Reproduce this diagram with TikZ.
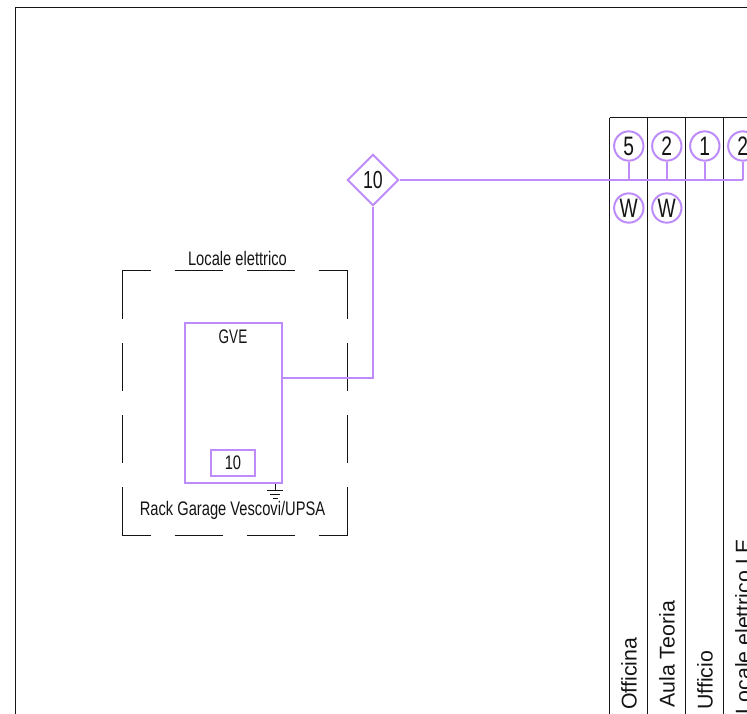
\documentclass[tikz,border=0pt]{standalone}
\usepackage{fontspec}
\setmainfont{Liberation Sans}
\usetikzlibrary{shapes.geometric}
\definecolor{lil}{RGB}{190,140,250}
\definecolor{ink}{RGB}{20,20,20}
\tikzset{
  px/.style={x=0.75pt,y=-0.75pt},
  wire/.style={draw=lil,line width=1.5pt},
  frameln/.style={draw=ink,line width=0.65pt},
  bubble/.style={circle,draw=lil,line width=1.5pt,fill=white,minimum size=22pt,inner sep=0pt},
  bubtext/.style={inner sep=0pt,text=ink,font=\fontsize{20pt}{21pt}\selectfont,xscale=0.72,transform shape},
  diam/.style={diamond,draw=lil,line width=1.5pt,fill=white,minimum width=38.5pt,minimum height=38.5pt,inner sep=0pt},
  narrow/.style={inner sep=0pt,text=ink,font=\fontsize{14.7pt}{16pt}\selectfont,xscale=0.75,transform shape},
  vlabel/.style={inner sep=0pt,anchor=west,rotate=90,text=ink,font=\fontsize{16pt}{18pt}\selectfont},
}
\begin{document}
\begin{tikzpicture}[px]
\useasboundingbox (0,0) rectangle (747,714);
% outer frame
\coordinate (fTL) at (15.5,7.5);
\coordinate (fTR) at (747,7.5);
\coordinate (fBL) at (15.5,714);
\draw[frameln] (fBL) -- (fTL) -- (fTR);
% columns
\foreach \n/\x in {a/609.7,b/647.7,c/685.7,d/723.2}{
  \coordinate (\n t) at (\x,117.7);
  \coordinate (\n b) at (\x,714);
  \draw[frameln] (\n t) -- (\n b);
}
\coordinate (colR) at (747,117.7);
\draw[frameln] (at) -- (colR);
% feeder
\node[diam] (dia) at (373,180) {};
\node[bubtext,font=\fontsize{18.5pt}{19pt}\selectfont] at (dia) {10};
\node[bubble] (n1) at (628.8,146) {};
\node[bubble] (n2) at (666.8,146) {};
\node[bubble] (n3) at (704.8,146) {};
\node[bubble] (n4) at (742.8,146) {};
\node[bubble] (w1) at (628.8,208) {};
\node[bubble] (w2) at (666.8,208) {};
\node[bubtext] at (n1) {5};
\node[bubtext] at (n2) {2};
\node[bubtext] at (n3) {1};
\node[bubtext] at (n4) {2};
\node[bubtext] at (w1) {W};
\node[bubtext] at (w2) {W};
\coordinate (j1) at (628.8,180);
\coordinate (j2) at (666.8,180);
\coordinate (j3) at (704.8,180);
\coordinate (j4) at (742.8,180);
\draw[wire] (dia.east) -- (j4);
\draw[wire] (n1) -- (j1);
\draw[wire] (n2) -- (j2);
\draw[wire] (n3) -- (j3);
\draw[wire] (n4) -- (j4);
% room dashed
\draw[frameln,line width=0.6pt] (122.7,319) -- (122.7,270.7) -- (151,270.7)
  (174.5,270.7) -- (223,270.7) (247,270.7) -- (295,270.7) (318.5,270.7) -- (347,270.7) -- (347,319)
  (122.7,343) -- (122.7,391) (122.7,415) -- (122.7,463) (122.7,487) -- (122.7,535) -- (151,535)
  (174.5,535) -- (223,535) (247,535) -- (295,535) (318.5,535) -- (347,535) -- (347,487)
  (347,463) -- (347,415) (347,391) -- (347,343);
\node[narrow] (loc) at (237.5,258.5) {Locale elettrico};
\node[narrow] (rack) at (232.5,510.5) {Rack Garage Vescovi/UPSA};
% GVE
\node[draw=lil,line width=1.3pt,minimum width=72.5pt,minimum height=120pt,inner sep=0pt] (gve) at (233.3,403) {};
\node[narrow,xscale=0.92] (gvet) at (233,337) {GVE};
\node[draw=lil,line width=1.3pt,minimum width=33pt,minimum height=20pt,inner sep=0pt] (ten) at (233,463) {};
\node[narrow] at (ten) {10};
\coordinate (bend) at (373,378);
\coordinate (gout) at (gve.east |- bend);
\draw[wire] (gout) -- (bend) -- (dia.south);
% earth
\coordinate (e0) at (275,484);
\coordinate (e1) at (275,490);
\draw[ink,line width=0.5pt] (e0) -- (e1)
  (267,490) -- (283,490) (270,494) -- (280,494) (272.5,498) -- (277.5,498);
% vertical labels
\node[vlabel] (l1) at (629,710) {Officina};
\node[vlabel] (l2) at (667,708) {Aula Teoria};
\node[vlabel] (l3) at (705,710) {Ufficio};
\node[vlabel] (l4) at (743,714.5) {Locale elettrico LE};
\end{tikzpicture}
\end{document}
